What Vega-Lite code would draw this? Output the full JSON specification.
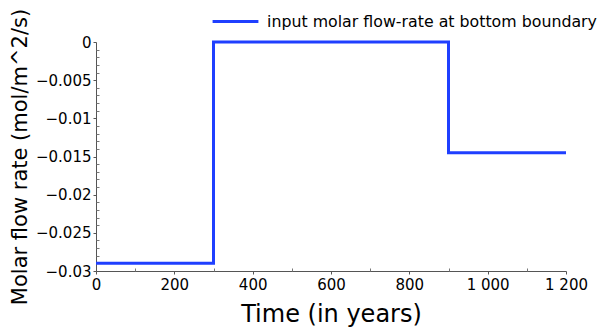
{
  "$schema": "https://vega.github.io/schema/vega-lite/v6.json",
  "autosize": "none",
  "width": 470,
  "height": 229,
  "padding": {"left": 96, "top": 42, "right": 37, "bottom": 63},
  "background": "white",
  "config": {"view": {"stroke": null}, "font": "DejaVu Sans"},
  "data": {"values": [
    {"t": 0, "q": -0.029, "s": "input molar flow-rate at bottom boundary"},
    {"t": 300, "q": 0, "s": "input molar flow-rate at bottom boundary"},
    {"t": 900, "q": -0.0145, "s": "input molar flow-rate at bottom boundary"},
    {"t": 1200, "q": -0.0145, "s": "input molar flow-rate at bottom boundary"}
  ]},
  "resolve": {"axis": {"x": "independent", "y": "independent"}},
  "layer": [
    {
      "mark": {"type": "line", "interpolate": "step-after", "strokeWidth": 3, "clip": false},
      "encoding": {
        "x": {"field": "t", "type": "quantitative", "scale": {"domain": [0, 1200], "nice": false},
          "axis": {"orient": "bottom", "values": [0, 200, 400, 600, 800, 1000, 1200], "grid": false,
            "labelExpr": "replace(format(datum.value, ','), ',', ' ')",
            "title": "Time (in years)", "titleFontSize": 24, "titleFontWeight": "normal", "titleColor": "#000", "titlePadding": 10,
            "labelFontSize": 15, "labelColor": "#000", "labelPadding": 3, "tickSize": 3, "tickColor": "#555", "domainColor": "#555", "labelFlush": false}},
        "y": {"field": "q", "type": "quantitative", "scale": {"domain": [-0.03, 0], "nice": false, "zero": false},
          "axis": {"orient": "left", "values": [0, -0.005, -0.01, -0.015, -0.02, -0.025, -0.03], "grid": false, "format": "~g",
            "title": "Molar flow rate (mol/m^2/s)", "titleFontSize": 21, "titleFontWeight": "normal", "titleColor": "#000", "titlePadding": 5,
            "labelFontSize": 15, "labelColor": "#000", "labelPadding": 2, "tickSize": 3, "tickColor": "#555", "domainColor": "#555", "labelFlush": false}},
        "color": {"field": "s", "type": "nominal", "scale": {"range": ["#1f3fff"]},
          "legend": {"title": null, "orient": "none", "legendX": 115, "legendY": -45, "symbolType": "stroke", "symbolSize": 2100, "symbolStrokeWidth": 3, "labelFontSize": 15.8, "labelColor": "#000", "labelLimit": 400, "labelOffset": 7}}
      }
    },
    {
      "mark": {"type": "line", "opacity": 0},
      "encoding": {
        "x": {"field": "t", "type": "quantitative",
          "axis": {"orient": "bottom", "values": [100, 300, 500, 700, 900, 1100], "labels": false, "domain": false, "grid": false, "title": null, "tickSize": -3, "tickColor": "#777"}},
        "y": {"field": "q", "type": "quantitative",
          "axis": {"orient": "left", "values": [-0.001, -0.002, -0.003, -0.004, -0.006, -0.007, -0.008, -0.009, -0.011, -0.012, -0.013, -0.014, -0.016, -0.017, -0.018, -0.019, -0.021, -0.022, -0.023, -0.024, -0.026, -0.027, -0.028, -0.029], "labels": false, "domain": false, "grid": false, "title": null, "tickSize": -3, "tickColor": "#777"}}
      }
    }
  ]
}
